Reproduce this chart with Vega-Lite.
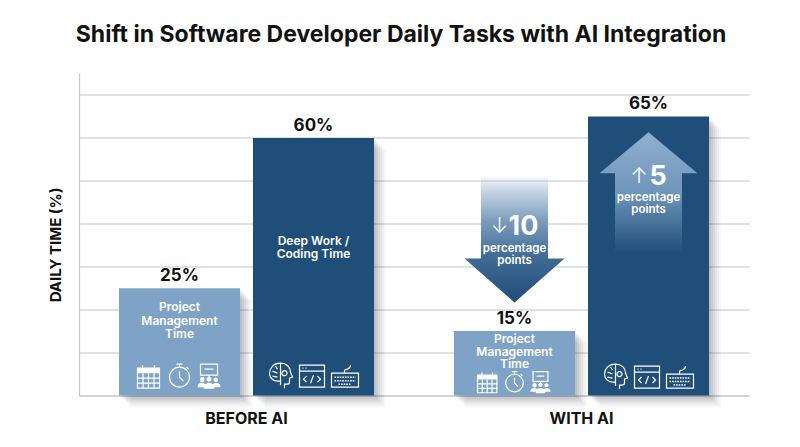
{
"$schema":"https://vega.github.io/schema/vega-lite/v6.json",
"width":670,"height":322,
"autosize":{"type":"none"},
"padding":{"left":79,"top":73.5,"right":51,"bottom":51.5},
"background":"#ffffff",
"title":{"text":"Shift in Software Developer Daily Tasks with AI Integration","anchor":"middle","dx":-13,"offset":27,"fontSize":23,"font":"Inter","fontWeight":700,"color":"#111111"},
"config":{"view":{"stroke":null}},
"datasets":{
"bars":[
{"period":"BEFORE AI","task":"Project Management","share":25,"label":"25%","iconLevel":4.5},
{"period":"BEFORE AI","task":"Deep Work","share":60,"label":"60%","iconLevel":4.5},
{"period":"WITH AI","task":"Project Management","share":15,"label":"15%","iconLevel":3.1},
{"period":"WITH AI","task":"Deep Work","share":65,"label":"65%","iconLevel":4.3}
],
"arrows":[
{"period":"WITH AI","task":"Project Management","change":-10,"level":36.45,"numberLevel":39.2,"textLevel":34.2,"number":"10","arrow":"↓","text":"percentage\npoints"},
{"period":"WITH AI","task":"Deep Work","change":5,"level":47.2,"numberLevel":50.8,"textLevel":46,"number":"5","arrow":"↑","text":"percentage\npoints"}
]
},
"data":{"name":"bars"},
"encoding":{
"xOffset":{"field":"task","type":"nominal","sort":null,"scale":{"domain":["Project Management","Deep Work"],"paddingInner":0.097,"paddingOuter":0.2985}},
"y":{"field":"share","type":"quantitative","scale":{"domain":[0,75],"nice":false,"zero":true},"axis":{"title":"DAILY TIME (%)","values":[0,10,20,30,40,50,60,70],"labels":false,"ticks":false,"grid":true,"gridColor":"#d4d7da","gridWidth":1.3,"domain":true,"domainColor":"#c4c7ca","domainWidth":1.2,"titleFont":"Inter","titleFontWeight":700,"titleFontSize":15,"titleColor":"#111111","titleX":-16,"titleY":171}}
},
"resolve":{"scale":{"x":"independent"}},
"layer":[
{"mark":{"type":"bar","color":"#ffffff","opacity":0},"encoding":{"y2":{"datum":0},
"x":{"field":"period","type":"nominal","sort":null,"scale":{"domain":["BEFORE AI","WITH AI"],"paddingInner":0,"paddingOuter":0},"axis":{"title":null,"labelAngle":0,"ticks":false,"domain":true,"domainColor":"#c4c7ca","domainWidth":1.2,"labelFont":"Inter","labelFontWeight":700,"labelFontSize":16,"labelColor":"#111111","labelPadding":15}}}},
{"mark":{"type":"bar","color":"#1b2a3a","opacity":0.07,"yOffset":2,"y2Offset":2},"encoding":{"y2":{"datum":0},"x":{"field":"period","type":"nominal","sort":null,"axis":null,"scale":{"domain":["BEFORE AI","WITH AI"],"paddingInner":0,"paddingOuter":0,"range":[2,672]}}}},
{"mark":{"type":"bar","color":"#1b2a3a","opacity":0.07,"yOffset":4,"y2Offset":4},"encoding":{"y2":{"datum":0},"x":{"field":"period","type":"nominal","sort":null,"axis":null,"scale":{"domain":["BEFORE AI","WITH AI"],"paddingInner":0,"paddingOuter":0,"range":[4,674]}}}},
{"mark":{"type":"bar","color":"#1b2a3a","opacity":0.06,"yOffset":6,"y2Offset":6},"encoding":{"y2":{"datum":0},"x":{"field":"period","type":"nominal","sort":null,"axis":null,"scale":{"domain":["BEFORE AI","WITH AI"],"paddingInner":0,"paddingOuter":0,"range":[6,676]}}}},
{"mark":{"type":"bar","color":"#1b2a3a","opacity":0.05,"yOffset":8,"y2Offset":8},"encoding":{"y2":{"datum":0},"x":{"field":"period","type":"nominal","sort":null,"axis":null,"scale":{"domain":["BEFORE AI","WITH AI"],"paddingInner":0,"paddingOuter":0,"range":[8,678]}}}},
{"mark":{"type":"bar","color":"#1b2a3a","opacity":0.04,"yOffset":10,"y2Offset":10},"encoding":{"y2":{"datum":0},"x":{"field":"period","type":"nominal","sort":null,"axis":null,"scale":{"domain":["BEFORE AI","WITH AI"],"paddingInner":0,"paddingOuter":0,"range":[10,680]}}}},
{"mark":{"type":"bar","color":"#1b2a3a","opacity":0.03,"yOffset":12,"y2Offset":12},"encoding":{"y2":{"datum":0},"x":{"field":"period","type":"nominal","sort":null,"axis":null,"scale":{"domain":["BEFORE AI","WITH AI"],"paddingInner":0,"paddingOuter":0,"range":[12,682]}}}},
{"encoding":{"x":{"field":"period","type":"nominal","sort":null,"axis":null,"scale":{"domain":["BEFORE AI","WITH AI"],"paddingInner":0,"paddingOuter":0}}},
"layer":[
{"mark":{"type":"bar"},"encoding":{"y2":{"datum":0},"color":{"field":"task","type":"nominal","scale":{"domain":["Project Management","Deep Work"],"range":["#7fa3c7","#1f4e79"]},"legend":null}}},
{"mark":{"type":"text","font":"Inter","fontWeight":700,"fontSize":17,"color":"#111111","dy":-12,"baseline":"middle"},"encoding":{"text":{"field":"label"}}},
{"data":{"name":"arrows"},"transform":[{"filter":"datum.change < 0"}],"mark":{"type":"point","filled":true,"size":4,"opacity":1,"stroke":null,"shape":"M-33.5-63.5H33.5V19.5H50L0 63.5L-50 19.5H-33.5Z","fill":{"gradient":"linear","x1":0,"y1":0,"x2":0,"y2":1,"stops":[{"offset":0,"color":"rgba(140,170,200,0.02)"},{"offset":0.12,"color":"rgba(140,170,200,0.5)"},{"offset":0.35,"color":"#7d9dbd"},{"offset":0.65,"color":"#3f6a94"},{"offset":1,"color":"#1f4e79"}]}},"encoding":{"y":{"field":"level","type":"quantitative"}}},
{"data":{"name":"arrows"},"transform":[{"filter":"datum.change > 0"}],"mark":{"type":"point","filled":true,"size":4,"opacity":1,"stroke":null,"shape":"M0-60.5L49-19.5H33.5V60.5H-33.5V-19.5H-49Z","fill":{"gradient":"linear","x1":0,"y1":0,"x2":0,"y2":1,"stops":[{"offset":0,"color":"#8fb0d0"},{"offset":0.5,"color":"#6f95ba"},{"offset":1,"color":"#1f4e79"}]}},"encoding":{"y":{"field":"level","type":"quantitative"}}},
{"data":{"name":"arrows"},"transform":[{"filter":"datum.change < 0"}],"mark":{"type":"text","font":"Inter","fontWeight":700,"fontSize":27,"color":"#ffffff","baseline":"middle","dx":9},"encoding":{"y":{"field":"numberLevel","type":"quantitative"},"text":{"field":"number"}}},
{"data":{"name":"arrows"},"transform":[{"filter":"datum.change > 0"}],"mark":{"type":"text","font":"Inter","fontWeight":700,"fontSize":27,"color":"#ffffff","baseline":"middle","dx":9.5},"encoding":{"y":{"field":"numberLevel","type":"quantitative"},"text":{"field":"number"}}},
{"data":{"name":"arrows"},"transform":[{"filter":"datum.change < 0"}],"mark":{"type":"text","font":"Inter","fontWeight":300,"fontSize":21,"color":"#ffffff","baseline":"middle","dx":-15},"encoding":{"y":{"field":"numberLevel","type":"quantitative"},"text":{"field":"arrow"}}},
{"data":{"name":"arrows"},"transform":[{"filter":"datum.change > 0"}],"mark":{"type":"text","font":"Inter","fontWeight":300,"fontSize":21,"color":"#ffffff","baseline":"middle","dx":-9.5},"encoding":{"y":{"field":"numberLevel","type":"quantitative"},"text":{"field":"arrow"}}},
{"data":{"name":"arrows"},"mark":{"type":"text","font":"Inter","fontWeight":600,"fontSize":11.5,"color":"#ffffff","baseline":"middle","lineBreak":"\n","lineHeight":12},"encoding":{"y":{"field":"textLevel","type":"quantitative"},"text":{"field":"text"}}},
{"data":{"values":[{"period":"BEFORE AI","task":"Project Management","text":"Project\nManagement\nTime","level":20.58}]},"mark":{"type":"text","font":"Inter","fontWeight":600,"fontSize":12,"color":"#ffffff","baseline":"middle","lineBreak":"\n","lineHeight":13.5},"encoding":{"y":{"field":"level","type":"quantitative"},"text":{"field":"text"}}},
{"data":{"values":[{"period":"WITH AI","task":"Project Management","text":"Project\nManagement\nTime","level":13.14}]},"mark":{"type":"text","font":"Inter","fontWeight":600,"fontSize":12,"color":"#ffffff","baseline":"middle","lineBreak":"\n","lineHeight":12.5},"encoding":{"y":{"field":"level","type":"quantitative"},"text":{"field":"text"}}},
{"data":{"values":[{"period":"BEFORE AI","task":"Deep Work","text":"Deep Work /\nCoding Time","level":36}]},"mark":{"type":"text","font":"Inter","fontWeight":600,"fontSize":12,"color":"#ffffff","baseline":"middle","lineBreak":"\n","lineHeight":13.5},"encoding":{"y":{"field":"level","type":"quantitative"},"text":{"field":"text"}}},
{"transform":[{"filter":"datum.task === 'Project Management'"}],"mark":{"type":"point","filled":false,"opacity":1,"color":"#ffffff","strokeWidth":1.2,"shape":"M-42-8H-20V12H-42Z M-42 2H-20 M-42 7H-20 M-36.5-3V12 M-31-3V12 M-25.5-3V12 M-37-11V-6 M-25-11V-6 M10 1A10 10 0 1 1 -10 1A10 10 0 1 1 10 1Z M-3-12H3 M0-12V-9 M0-5V1L4 5 M7-9L9-7 M21-12H38V-1H21Z M25-7H34 M29.5-1V2"},"encoding":{"y":{"field":"iconLevel","type":"quantitative"},"size":{"field":"period","type":"nominal","scale":{"domain":["BEFORE AI","WITH AI"],"range":[4,3.1]},"legend":null}}},
{"transform":[{"filter":"datum.task === 'Project Management'"}],"mark":{"type":"point","filled":true,"opacity":1,"color":"#ffffff","strokeWidth":0,"shape":"M-42-8H-20V-3H-42Z M20.5 3.5A2.3 2.3 0 1 1 25 3.5A2.3 2.3 0 1 1 20.5 3.5Z M27 3A2.5 2.5 0 1 1 32 3A2.5 2.5 0 1 1 27 3Z M34 3.5A2.3 2.3 0 1 1 38.6 3.5A2.3 2.3 0 1 1 34 3.5Z M18 11Q18 6.5 22.5 6.5Q25 6.5 25.5 8Q27 6.5 29.5 6.5Q32 6.5 33.5 8Q34 6.5 36.5 6.5Q41 6.5 41 11H35Q35 12.5 34 12.5H25Q24 12.5 24 11Z"},"encoding":{"y":{"field":"iconLevel","type":"quantitative"},"size":{"field":"period","type":"nominal","scale":{"domain":["BEFORE AI","WITH AI"],"range":[4,3.1]},"legend":null}}},
{"transform":[{"filter":"datum.task === 'Deep Work'"}],"mark":{"type":"point","filled":false,"opacity":1,"size":4,"color":"#ffffff","strokeWidth":1.2,"shape":"M-33-13C-27-13-23-9-23-4L-21 1L-24 2V6Q-24 8-27 8H-29V12 M-33-13C-40-13-44-8-44-3C-44 2-40 5-36 5H-33V9 M-33-13V9 M-26.5-3A2.5 2.5 0 1 1 -31.5-3A2.5 2.5 0 1 1 -26.5-3Z M-41-5L-36-3 M-38-10L-36-7 M-41 0L-36 1 M-14-11H11V11H-14Z M-14-5H11 M-11-8H-10 M-8-8H-7 M-7 0L-10 3L-7 6 M4 0L7 3L4 6 M-3 7L0-1 M18-3H45V11H18Z M31-3V-5Q31-7 34-7Q37-8 37-11"},"encoding":{"y":{"field":"iconLevel","type":"quantitative"}}},
{"transform":[{"filter":"datum.task === 'Deep Work'"}],"mark":{"type":"point","filled":false,"opacity":1,"size":4,"color":"#ffffff","strokeWidth":1.6,"strokeDash":[1.6,1],"shape":"M21 1H42 M21 4.5H42 M25 8H38"},"encoding":{"y":{"field":"iconLevel","type":"quantitative"}}}
]}
]
}
